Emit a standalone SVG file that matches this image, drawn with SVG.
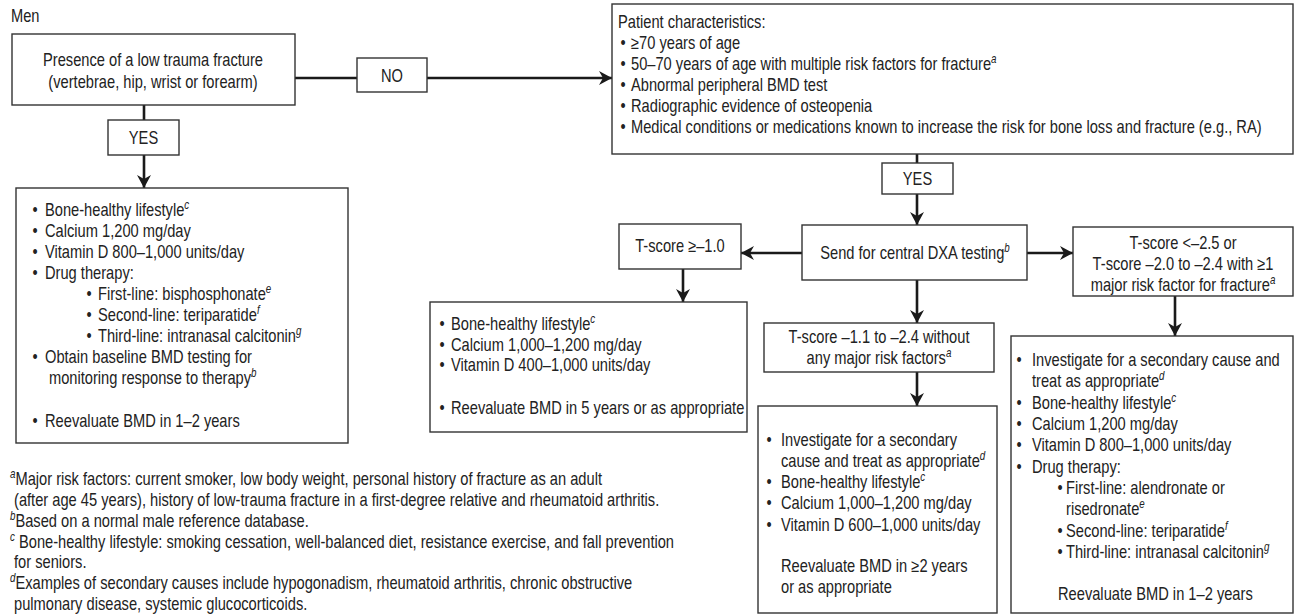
<svg xmlns="http://www.w3.org/2000/svg" width="1297" height="616" viewBox="0 0 1297 616">
  <style>
    /* condensed look: Liberation Sans squeezed horizontally around each text's anchor */
    text { font-family: "Liberation Sans", Arial, sans-serif; font-size: 18px; fill: #222;
           transform-box: fill-box; transform-origin: 0% 50%; transform: scaleX(0.815); }
    .c, .bul { text-anchor: middle; transform-origin: 50% 50%; }
    .sup { font-size: 12px; font-style: italic; baseline-shift: super; }
    .box { fill: #fff; stroke: #333; stroke-width: 1.4; }
    .link { fill: none; stroke: #1a1a1a; stroke-width: 2.6; }
  </style>
  <defs>
    <marker id="arrow" markerUnits="userSpaceOnUse" markerWidth="14" markerHeight="14" refX="13" refY="7" orient="auto">
      <path d="M0,0 L13,7 L0,14 L4,7 z" fill="#1a1a1a"/>
    </marker>
  </defs>
  <rect width="1297" height="616" fill="#fff"/>

  <text x="11" y="22">Men</text>

  <!-- connectors -->
  <g id="connectors">
    <line class="link" x1="295" y1="78" x2="357" y2="78"/>
    <line class="link" x1="427" y1="78" x2="612" y2="78" marker-end="url(#arrow)"/>
    <line class="link" x1="144" y1="105" x2="144" y2="120"/>
    <line class="link" x1="144" y1="155" x2="144" y2="188" marker-end="url(#arrow)"/>
    <line class="link" x1="917" y1="154" x2="917" y2="163"/>
    <line class="link" x1="917" y1="194" x2="917" y2="225" marker-end="url(#arrow)"/>
    <line class="link" x1="802" y1="253" x2="741" y2="253" marker-end="url(#arrow)"/>
    <line class="link" x1="1027" y1="253" x2="1073" y2="253" marker-end="url(#arrow)"/>
    <line class="link" x1="683" y1="269" x2="683" y2="302" marker-end="url(#arrow)"/>
    <line class="link" x1="917" y1="280" x2="917" y2="323" marker-end="url(#arrow)"/>
    <line class="link" x1="917" y1="372" x2="917" y2="406" marker-end="url(#arrow)"/>
    <line class="link" x1="1175" y1="296" x2="1175" y2="336" marker-end="url(#arrow)"/>
  </g>

  <g id="fracture">
    <rect class="box" x="12" y="34" width="283" height="71"/>
    <text class="c" x="153" y="66">Presence of a low trauma fracture</text>
    <text class="c" x="153" y="88">(vertebrae, hip, wrist or forearm)</text>
  </g>

  <g id="no-label">
    <rect class="box" x="357" y="58" width="70" height="34"/>
    <text class="c" x="392" y="82">NO</text>
  </g>

  <g id="yes-left">
    <rect class="box" x="108" y="120" width="71" height="35"/>
    <text class="c" x="143.5" y="144">YES</text>
  </g>

  <g id="patient">
    <rect class="box" x="612" y="4" width="681" height="150"/>
    <text x="618" y="28">Patient characteristics:</text>
    <text class="bul" x="623" y="49">•</text><text x="631" y="49">≥70 years of age</text>
    <text class="bul" x="623" y="70">•</text><text x="631" y="70">50–70 years of age with multiple risk factors for fracture<tspan class="sup">a</tspan></text>
    <text class="bul" x="623" y="91">•</text><text x="631" y="91">Abnormal peripheral BMD test</text>
    <text class="bul" x="623" y="112">•</text><text x="631" y="112">Radiographic evidence of osteopenia</text>
    <text class="bul" x="623" y="133">•</text><text x="631" y="133">Medical conditions or medications known to increase the risk for bone loss and fracture (e.g., RA)</text>
  </g>

  <g id="yes-right">
    <rect class="box" x="882" y="163" width="71" height="31"/>
    <text class="c" x="917.5" y="185">YES</text>
  </g>

  <g id="dxa">
    <rect class="box" x="802" y="225" width="225" height="55"/>
    <text class="c" x="915" y="259">Send for central DXA testing<tspan class="sup">b</tspan></text>
  </g>

  <g id="tscore-normal">
    <rect class="box" x="619" y="224" width="122" height="45"/>
    <text class="c" x="680" y="252">T-score ≥–1.0</text>
  </g>

  <g id="tscore-low">
    <rect class="box" x="764" y="323" width="230" height="49"/>
    <text class="c" x="879" y="343">T-score –1.1 to –2.4 without</text>
    <text class="c" x="879" y="364">any major risk factors<tspan class="sup">a</tspan></text>
  </g>

  <g id="tscore-osteo">
    <rect class="box" x="1073" y="227" width="220" height="69"/>
    <text class="c" x="1183" y="249">T-score &lt;–2.5 or</text>
    <text class="c" x="1183" y="270">T-score –2.0 to –2.4 with ≥1</text>
    <text class="c" x="1183" y="291">major risk factor for fracture<tspan class="sup">a</tspan></text>
  </g>

  <g id="treat-fracture">
    <rect class="box" x="16" y="188" width="332" height="255"/>
    <text class="bul" x="35" y="216">•</text><text x="45" y="216">Bone-healthy lifestyle<tspan class="sup">c</tspan></text>
    <text class="bul" x="35" y="237">•</text><text x="45" y="237">Calcium 1,200 mg/day</text>
    <text class="bul" x="35" y="258">•</text><text x="45" y="258">Vitamin D 800–1,000 units/day</text>
    <text class="bul" x="35" y="279">•</text><text x="45" y="279">Drug therapy:</text>
    <text class="bul" x="89" y="300">•</text><text x="98" y="300">First-line: bisphosphonate<tspan class="sup">e</tspan></text>
    <text class="bul" x="89" y="321">•</text><text x="98" y="321">Second-line: teriparatide<tspan class="sup">f</tspan></text>
    <text class="bul" x="89" y="342">•</text><text x="98" y="342">Third-line: intranasal calcitonin<tspan class="sup">g</tspan></text>
    <text class="bul" x="35" y="363">•</text><text x="45" y="363">Obtain baseline BMD testing for</text>
    <text x="49" y="384">monitoring response to therapy<tspan class="sup">b</tspan></text>
    <text class="bul" x="35" y="427">•</text><text x="45" y="427">Reevaluate BMD in 1–2 years</text>
  </g>

  <g id="treat-normal">
    <rect class="box" x="430" y="302" width="317" height="130"/>
    <text class="bul" x="442" y="330">•</text><text x="451" y="330">Bone-healthy lifestyle<tspan class="sup">c</tspan></text>
    <text class="bul" x="442" y="351">•</text><text x="451" y="351">Calcium 1,000–1,200 mg/day</text>
    <text class="bul" x="442" y="371">•</text><text x="451" y="371">Vitamin D 400–1,000 units/day</text>
    <text class="bul" x="442" y="414">•</text><text x="451" y="414">Reevaluate BMD in 5 years or as appropriate</text>
  </g>

  <g id="treat-low">
    <rect class="box" x="758" y="406" width="239" height="207"/>
    <text class="bul" x="769" y="446">•</text><text x="781" y="446">Investigate for a secondary</text>
    <text x="781" y="467">cause and treat as appropriate<tspan class="sup">d</tspan></text>
    <text class="bul" x="769" y="488">•</text><text x="781" y="488">Bone-healthy lifestyle<tspan class="sup">c</tspan></text>
    <text class="bul" x="769" y="509">•</text><text x="781" y="509">Calcium 1,000–1,200 mg/day</text>
    <text class="bul" x="769" y="531">•</text><text x="781" y="531">Vitamin D 600–1,000 units/day</text>
    <text x="781" y="572">Reevaluate BMD in ≥2 years</text>
    <text x="781" y="593">or as appropriate</text>
  </g>

  <g id="treat-osteo">
    <rect class="box" x="1011" y="336" width="282" height="277"/>
    <text class="bul" x="1019" y="366">•</text><text x="1032" y="366">Investigate for a secondary cause and</text>
    <text x="1032" y="387">treat as appropriate<tspan class="sup">d</tspan></text>
    <text class="bul" x="1019" y="409">•</text><text x="1032" y="409">Bone-healthy lifestyle<tspan class="sup">c</tspan></text>
    <text class="bul" x="1019" y="430">•</text><text x="1032" y="430">Calcium 1,200 mg/day</text>
    <text class="bul" x="1019" y="451">•</text><text x="1032" y="451">Vitamin D 800–1,000 units/day</text>
    <text class="bul" x="1019" y="473">•</text><text x="1032" y="473">Drug therapy:</text>
    <text class="bul" x="1060" y="494">•</text><text x="1066" y="494">First-line: alendronate or</text>
    <text x="1066" y="515">risedronate<tspan class="sup">e</tspan></text>
    <text class="bul" x="1060" y="537">•</text><text x="1066" y="537">Second-line: teriparatide<tspan class="sup">f</tspan></text>
    <text class="bul" x="1060" y="558">•</text><text x="1066" y="558">Third-line: intranasal calcitonin<tspan class="sup">g</tspan></text>
    <text x="1058" y="600">Reevaluate BMD in 1–2 years</text>
  </g>

  <!-- footnotes -->
  <g id="footnotes">
    <text x="10" y="485"><tspan class="sup">a</tspan>Major risk factors: current smoker, low body weight, personal history of fracture as an adult</text>
    <text x="14" y="506">(after age 45 years), history of low-trauma fracture in a first-degree relative and rheumatoid arthritis.</text>
    <text x="10" y="527"><tspan class="sup">b</tspan>Based on a normal male reference database.</text>
    <text x="10" y="548"><tspan class="sup">c</tspan> Bone-healthy lifestyle: smoking cessation, well-balanced diet, resistance exercise, and fall prevention</text>
    <text x="14" y="568">for seniors.</text>
    <text x="10" y="589"><tspan class="sup">d</tspan>Examples of secondary causes include hypogonadism, rheumatoid arthritis, chronic obstructive</text>
    <text x="14" y="610">pulmonary disease, systemic glucocorticoids.</text>
  </g>
</svg>
